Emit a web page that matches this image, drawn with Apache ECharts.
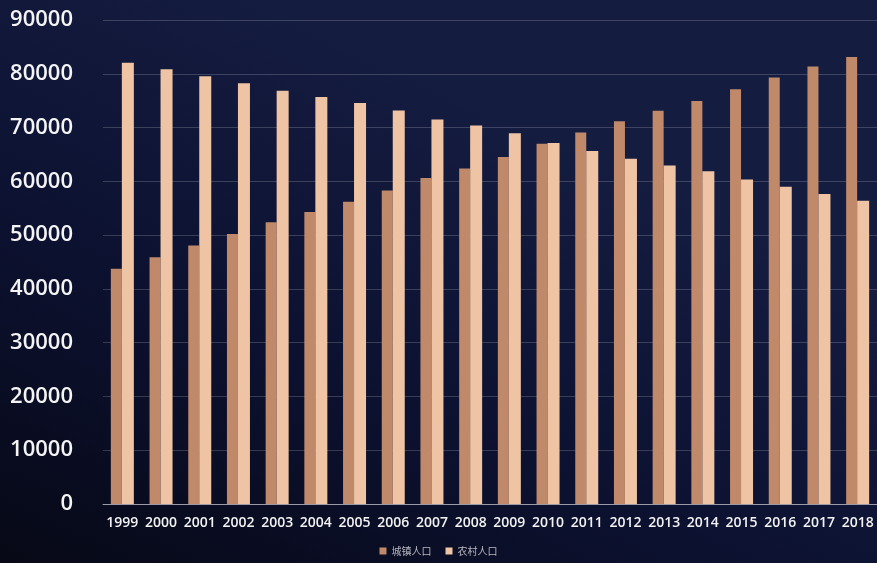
<!DOCTYPE html>
<html lang="zh-cn">
<head>
    <meta charset="UTF-8">
    <title>城镇人口与农村人口</title>
    <script src="https://cdn.jsdelivr.net/npm/echarts@6/dist/echarts.min.js"></script>
    <style>
        html, body { margin: 0; padding: 0; background: #0b0f24; }
        #main { width: 877px; height: 563px; }
    </style>
</head>
<body>
	<div id="main"></div>
	<script>
	    // 年份
	    var years = ['1999', '2000', '2001', '2002', '2003', '2004', '2005', '2006', '2007', '2008',
	                 '2009', '2010', '2011', '2012', '2013', '2014', '2015', '2016', '2017', '2018'];
	    // 城镇人口(万人)
	    var urban = [43748, 45906, 48064, 50212, 52376, 54283, 56212, 58288, 60633, 62403,
	                 64512, 66978, 69079, 71182, 73111, 74916, 77116, 79298, 81347, 83137];
	    // 农村人口(万人)
	    var rural = [82038, 80837, 79563, 78241, 76851, 75705, 74544, 73160, 71496, 70399,
	                 68938, 67113, 65656, 64222, 62961, 61866, 60346, 58973, 57661, 56401];

	    var myChart = echarts.init(document.getElementById('main'));
	    var option = {
	        backgroundColor: new echarts.graphic.LinearGradient(0.3, 0, 0, 1, [
	            { offset: 0, color: '#141c40' },
	            { offset: 0.5, color: '#0c1130' },
	            { offset: 1, color: '#070916' }
	        ]),
	        legend: {
	            bottom: 2,
	            left: 'center',
	            itemWidth: 7,
	            itemHeight: 7,
	            itemGap: 14,
	            icon: 'rect',
	            textStyle: { color: '#b8b8c0', fontSize: 10, fontFamily: 'Noto Sans CJK SC' },
	            data: ['城镇人口', '农村人口']
	        },
	        grid: {
	            left: 103,
	            right: 0,
	            top: 20,
	            bottom: 59
	        },
	        xAxis: {
	            type: 'category',
	            data: years,
	            axisLine: { lineStyle: { color: '#9a9aa8', width: 1 } },
	            axisTick: { show: false },
	            axisLabel: {
	                color: '#f2f2f2',
	                fontSize: 14,
	                fontWeight: 600,
	                fontFamily: 'Open Sans',
	                margin: 12,
	                interval: 0
	            }
	        },
	        yAxis: {
	            type: 'value',
	            min: 0,
	            max: 90000,
	            interval: 10000,
	            axisLine: { show: false },
	            axisTick: { show: false },
	            axisLabel: {
	                color: '#f4f4f4',
	                fontSize: 22,
	                fontWeight: 600,
	                fontFamily: 'Open Sans',
	                margin: 30,
	                formatter: function (v) { return String(v); }
	            },
	            splitLine: { lineStyle: { color: 'rgba(255,255,255,0.18)', width: 1 } }
	        },
	        series: [
	            {
	                name: '城镇人口',
	                type: 'bar',
	                data: urban,
	                barWidth: 11,
	                barGap: '0%',
	                itemStyle: { color: '#c0896a' }
	            },
	            {
	                name: '农村人口',
	                type: 'bar',
	                data: rural,
	                barWidth: 12,
	                itemStyle: { color: '#efc4a4' }
	            }
	        ]
	    };
	    myChart.setOption(option);
	</script>
</body>
</html>
